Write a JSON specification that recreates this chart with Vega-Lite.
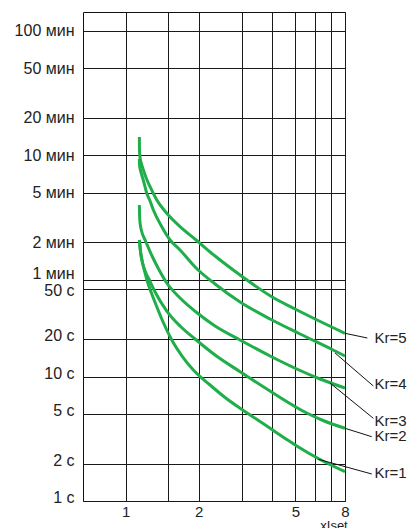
{
  "$schema": "https://vega.github.io/schema/vega-lite/v6.json",
  "width": 262,
  "height": 489,
  "autosize": {"type": "none"},
  "padding": {"left": 83, "top": 12, "right": 68, "bottom": 27},
  "background": "white",
  "config": {
    "view": {"stroke": "#111", "strokeWidth": 1},
    "font": "Liberation Sans"
  },
  "datasets": {
    "curves": [
      {"kr": "5", "i": 1.1397, "t": 838.9}, {"kr": "5", "i": 1.1407, "t": 659.7}, {"kr": "5", "i": 1.1472, "t": 568.9}, {"kr": "5", "i": 1.1637, "t": 509.0}, {"kr": "5", "i": 1.1838, "t": 455.6}, {"kr": "5", "i": 1.2203, "t": 385.8}, {"kr": "5", "i": 1.2612, "t": 334.6}, {"kr": "5", "i": 1.344, "t": 261.6}, {"kr": "5", "i": 1.4777, "t": 204.6}, {"kr": "5", "i": 1.6757, "t": 159.7}, {"kr": "5", "i": 1.9504, "t": 124.9}, {"kr": "5", "i": 2.3349, "t": 92.88}, {"kr": "5", "i": 2.96, "t": 65.35}, {"kr": "5", "i": 3.9972, "t": 43.75}, {"kr": "5", "i": 4.9836, "t": 34.84}, {"kr": "5", "i": 6.0241, "t": 28.96}, {"kr": "5", "i": 8.0, "t": 22.23},
      {"kr": "4", "i": 1.1397, "t": 558.4}, {"kr": "4", "i": 1.1418, "t": 499.7}, {"kr": "4", "i": 1.1506, "t": 455.6}, {"kr": "4", "i": 1.1659, "t": 415.5}, {"kr": "4", "i": 1.1917, "t": 358.3}, {"kr": "4", "i": 1.2226, "t": 296.1}, {"kr": "4", "i": 1.2612, "t": 256.8}, {"kr": "4", "i": 1.3013, "t": 217.4}, {"kr": "4", "i": 1.4093, "t": 159.7}, {"kr": "4", "i": 1.5246, "t": 124.9}, {"kr": "4", "i": 1.6757, "t": 103.8}, {"kr": "4", "i": 1.9504, "t": 74.37}, {"kr": "4", "i": 2.3349, "t": 55.33}, {"kr": "4", "i": 2.96, "t": 39.67}, {"kr": "4", "i": 3.9333, "t": 28.96}, {"kr": "4", "i": 5.2255, "t": 21.95}, {"kr": "4", "i": 7.1443, "t": 16.33}, {"kr": "4", "i": 8.0, "t": 14.61},
      {"kr": "3", "i": 1.1397, "t": 238.5}, {"kr": "3", "i": 1.1418, "t": 198.2}, {"kr": "3", "i": 1.1472, "t": 171.0}, {"kr": "3", "i": 1.1637, "t": 147.5}, {"kr": "3", "i": 1.203, "t": 124.9}, {"kr": "3", "i": 1.2378, "t": 109.7}, {"kr": "3", "i": 1.2854, "t": 92.88}, {"kr": "3", "i": 1.3606, "t": 74.37}, {"kr": "3", "i": 1.4777, "t": 56.36}, {"kr": "3", "i": 1.6757, "t": 42.71}, {"kr": "3", "i": 1.9504, "t": 32.97}, {"kr": "3", "i": 2.3349, "t": 25.44}, {"kr": "3", "i": 2.96, "t": 19.64}, {"kr": "3", "i": 3.9333, "t": 14.61}, {"kr": "3", "i": 5.0646, "t": 11.49}, {"kr": "3", "i": 6.3152, "t": 9.548}, {"kr": "3", "i": 8.0, "t": 8.081},
      {"kr": "2", "i": 1.1397, "t": 124.9}, {"kr": "2", "i": 1.1528, "t": 100.0}, {"kr": "2", "i": 1.1749, "t": 81.56}, {"kr": "2", "i": 1.203, "t": 70.38}, {"kr": "2", "i": 1.2413, "t": 61.84}, {"kr": "2", "i": 1.3225, "t": 47.72}, {"kr": "2", "i": 1.4777, "t": 33.58}, {"kr": "2", "i": 1.6757, "t": 25.44}, {"kr": "2", "i": 1.932, "t": 20.01}, {"kr": "2", "i": 2.3349, "t": 14.89}, {"kr": "2", "i": 2.96, "t": 10.93}, {"kr": "2", "i": 4.0468, "t": 7.371}, {"kr": "2", "i": 5.5688, "t": 5.091}, {"kr": "2", "i": 6.4975, "t": 4.432}, {"kr": "2", "i": 8.0, "t": 3.837},
      {"kr": "1", "i": 1.1397, "t": 124.9}, {"kr": "1", "i": 1.1528, "t": 100.0}, {"kr": "1", "i": 1.1749, "t": 81.56}, {"kr": "1", "i": 1.203, "t": 67.82}, {"kr": "1", "i": 1.2319, "t": 57.41}, {"kr": "1", "i": 1.2733, "t": 47.72}, {"kr": "1", "i": 1.344, "t": 36.36}, {"kr": "1", "i": 1.4268, "t": 27.4}, {"kr": "1", "i": 1.5494, "t": 19.64}, {"kr": "1", "i": 1.7078, "t": 14.61}, {"kr": "1", "i": 1.9011, "t": 11.28}, {"kr": "1", "i": 2.2271, "t": 8.546}, {"kr": "1", "i": 2.5674, "t": 6.782}, {"kr": "1", "i": 2.96, "t": 5.554}, {"kr": "1", "i": 3.577, "t": 4.351}, {"kr": "1", "i": 4.607, "t": 3.119}, {"kr": "1", "i": 5.0646, "t": 2.765}, {"kr": "1", "i": 6.3152, "t": 2.154}, {"kr": "1", "i": 8.0, "t": 1.719}
    ],
    "leaders": [
      {"kr": "5", "x1": 8.0, "y1": 22.23, "x2": 9.887, "y2": 20.38},
      {"kr": "4", "x1": 7.281, "y1": 15.45, "x2": 10.465, "y2": 8.388},
      {"kr": "3", "x1": 6.943, "y1": 8.867, "x2": 10.465, "y2": 4.616},
      {"kr": "2", "x1": 8.0, "y1": 3.837, "x2": 10.308, "y2": 3.284},
      {"kr": "1", "x1": 6.215, "y1": 2.162, "x2": 10.308, "y2": 1.648}
    ],
    "labels": [
      {"label": "Kr=5", "x": 10.585, "y": 20.57},
      {"label": "Kr=4", "x": 10.585, "y": 8.672},
      {"label": "Kr=3", "x": 10.585, "y": 4.408},
      {"label": "Kr=2", "x": 10.585, "y": 3.309},
      {"label": "Kr=1", "x": 10.585, "y": 1.694}
    ]
  },
  "layer": [
    {
      "data": {"name": "curves"},
      "mark": {"type": "line", "color": "#1fae4a", "strokeWidth": 3, "interpolate": "monotone", "clip": false},
      "encoding": {
        "x": {
          "field": "i", "type": "quantitative",
          "scale": {"type": "log", "domain": [0.668, 8], "nice": false, "zero": false},
          "axis": {
            "values": [1, 1.5, 2, 3, 4, 5, 6, 7, 8],
            "labelExpr": "(datum.value == 1 || datum.value == 2 || datum.value == 5 || datum.value == 8) ? toString(datum.value) : ''",
            "grid": true, "gridColor": "#1a1a1a", "gridWidth": 1,
            "ticks": false, "tickSize": 0, "domain": false,
            "labelOverlap": false, "labelFlush": false,
            "labelPadding": 3, "labelFontSize": 15, "labelColor": "#222", "labelFont": "Liberation Sans",
            "title": "xIset", "titleFontSize": 13, "titleFontWeight": "normal", "titleColor": "#222", "titleFont": "Liberation Sans",
            "titleX": 250.5, "titleY": 28, "titleAlign": "center", "titleBaseline": "alphabetic"
          }
        },
        "y": {
          "field": "t", "type": "quantitative",
          "scale": {"type": "log", "domain": [1, 8470], "nice": false, "zero": false},
          "axis": {
            "values": [1, 2, 5, 10, 20, 50, 60, 120, 300, 600, 1200, 3000, 6000],
            "labelExpr": "datum.value < 60 ? toString(datum.value) + ' с' : toString(datum.value / 60) + ' мин'",
            "grid": true, "gridColor": "#1a1a1a", "gridWidth": 1,
            "ticks": false, "tickSize": 0, "domain": false,
            "labelOverlap": false, "labelFlush": false,
            "labelPadding": 9, "labelFontSize": 16, "labelColor": "#222", "labelFont": "Liberation Sans",
            "labelOffset": {"condition": [{"test": "datum.value == 60", "value": -6}, {"test": "datum.value == 50", "value": 1}, {"test": "datum.value <= 20", "value": -3.5}], "value": 0},
            "title": null
          }
        },
        "detail": {"field": "kr", "type": "nominal"}
      }
    },
    {
      "data": {"name": "leaders"},
      "mark": {"type": "rule", "color": "#111", "strokeWidth": 1, "clip": false},
      "encoding": {
        "x": {"field": "x1", "type": "quantitative", "scale": {"type": "log", "domain": [0.668, 8], "nice": false, "zero": false}},
        "y": {"field": "y1", "type": "quantitative", "scale": {"type": "log", "domain": [1, 8470], "nice": false, "zero": false}},
        "x2": {"field": "x2"},
        "y2": {"field": "y2"}
      }
    },
    {
      "data": {"name": "labels"},
      "mark": {"type": "text", "align": "left", "baseline": "middle", "fontSize": 15, "color": "#222", "font": "Liberation Sans", "clip": false},
      "encoding": {
        "x": {"field": "x", "type": "quantitative", "scale": {"type": "log", "domain": [0.668, 8], "nice": false, "zero": false}},
        "y": {"field": "y", "type": "quantitative", "scale": {"type": "log", "domain": [1, 8470], "nice": false, "zero": false}},
        "text": {"field": "label", "type": "nominal"}
      }
    }
  ]
}
